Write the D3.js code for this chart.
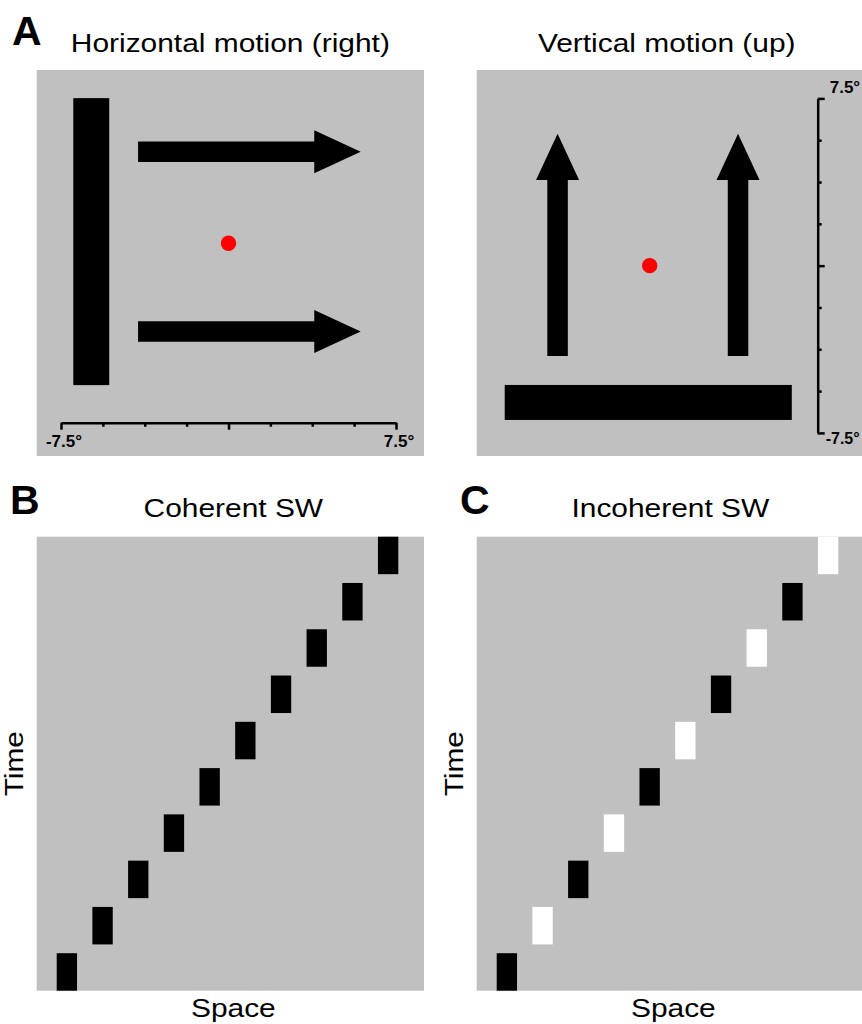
<!DOCTYPE html>
<meta charset="utf-8">
<head>
<style>
body { margin: 0; background: #fff; }
svg { display: block; }
text { font-family: "Liberation Sans", Arial, Helvetica, sans-serif; fill: #000; }
.bg { fill: #c0c0c0; }
.deg-axis path, .deg-axis line { stroke: #000; stroke-width: 2.5px; fill: none; }
.title { font-size: 26px; }
.letter { font-size: 41px; font-weight: bold; }
.fix { fill: #ff0000; }
</style>
</head>
<body>
<svg></svg>
<script src="https://d3js.org/d3.v7.min.js"></script>
<script>
// ---------- data (degrees of visual angle for panel A) ----------
var degTicks = [-7.5, -5.625, -3.75, -1.875, 0, 1.875, 3.75, 5.625, 7.5];
var degMajor = [-7.5, 0, 7.5];
var degLabels = ["-7.5°", "7.5°"];

var hArrowRows = [4.1, -3.95];          // centre line of each rightward arrow
var vArrowCols = [-4.13, 3.96];         // centre line of each upward arrow
var arrowSpan = [-4.05, 3.84, 5.92];    // tail, head base, tip
var arrowWidth = [0.92, 1.93];          // shaft, head
var hBar = [-6.95, -5.34, -6.35, 6.5];  // x0, x1, y0, y1 (horizontal panel)
var vBar = [-6.5, 6.37, -6.92, -5.35];  // x0, x1, y0, y1 (vertical panel)

// panels B and C: one bar per time step
var timeSteps = [0, 1, 2, 3, 4, 5, 6, 7, 8, 9];
var spaceSteps = [0, 1, 2, 3, 4, 5, 6, 7, 8, 9];
var coherentPos = [0, 1, 2, 3, 4, 5, 6, 7, 8, 9];
var coherentContrast = ["dark", "dark", "dark", "dark", "dark", "dark", "dark", "dark", "dark", "dark"];
var incoherentPos = [0, 1, 2, 3, 4, 5, 6, 7, 8, 9];
var incoherentContrast = ["dark", "light", "dark", "light", "dark", "light", "dark", "light", "dark", "light"];

var panelTitles = ["Horizontal motion (right)", "Vertical motion (up)", "Coherent SW", "Incoherent SW"];
var panelLetters = ["A", "B", "C"];

// ---------- layout ----------
var W = 862, H = 1024;
var colX = [36.7, 476.7], panelW = 387.3;
var rowTop = {y: 70, h: 386}, rowBot = {y: 536.7, h: 454};
var stretch = 1.15; // title lettering in the figure is a bit wider than Arial

var svg = d3.select('svg').attr('width', W).attr('height', H);

var contrastColor = d3.scaleOrdinal().domain(["dark", "light"]).range(["#000", "#fff"]);

function widen(sel) {
  sel.each(function () {
    var w = this.getComputedTextLength();
    d3.select(this).attr('textLength', w * stretch).attr('lengthAdjust', 'spacingAndGlyphs');
  });
}

function degText(sel) {
  sel.style('font-size', '17px').style('font-weight', 'bold')
    .style('font-family', '"Liberation Sans", Arial, sans-serif').style('fill', '#000');
}

function panel(x, y, h) {
  var g = svg.append('g').attr('transform', 'translate(' + x + ',' + y + ')');
  g.append('rect').attr('class', 'bg').attr('width', panelW).attr('height', h);
  return g;
}

var arrowLine = d3.line();

function hArrow(xs, ys, yc) {
  var s = arrowWidth[0] / 2, hh = arrowWidth[1] / 2;
  var p = [[arrowSpan[0], yc + s], [arrowSpan[1], yc + s], [arrowSpan[1], yc + hh], [arrowSpan[2], yc],
           [arrowSpan[1], yc - hh], [arrowSpan[1], yc - s], [arrowSpan[0], yc - s]];
  return arrowLine(p.map(function (d) { return [xs(d[0]), ys(d[1])]; })) + 'Z';
}
function vArrow(xs, ys, xc) {
  var s = arrowWidth[0] / 2, hh = arrowWidth[1] / 2;
  var p = [[xc - s, arrowSpan[0]], [xc - s, arrowSpan[1]], [xc - hh, arrowSpan[1]], [xc, arrowSpan[2]],
           [xc + hh, arrowSpan[1]], [xc + s, arrowSpan[1]], [xc + s, arrowSpan[0]]];
  return arrowLine(p.map(function (d) { return [xs(d[0]), ys(d[1])]; })) + 'Z';
}

// ---------- A, horizontal ----------
var gA1 = panel(colX[0], rowTop.y, rowTop.h);
var xA1 = d3.scaleLinear().domain([-7.5, 7.5]).range([24.3, 359.3]);
var yA1 = d3.scaleLinear().domain([-7.5, 7.5]).range([340.8, 5.8]);

gA1.append('rect')
  .attr('x', xA1(hBar[0])).attr('width', xA1(hBar[1]) - xA1(hBar[0]))
  .attr('y', yA1(hBar[3])).attr('height', yA1(hBar[2]) - yA1(hBar[3]));
gA1.selectAll('path.arrow').data(hArrowRows).enter().append('path')
  .attr('class', 'arrow').attr('d', function (d) { return hArrow(xA1, yA1, d); });
gA1.append('circle').attr('class', 'fix').attr('cx', xA1(0)).attr('cy', yA1(0)).attr('r', 7.7);

var axA1 = gA1.append('g').attr('class', 'deg-axis').attr('transform', 'translate(0,352.7)')
  .call(d3.axisBottom(xA1).tickValues(degTicks).tickSizeInner(4).tickSizeOuter(0).tickFormat(''));
axA1.selectAll('.tick line').filter(function (d) { return degMajor.indexOf(d) >= 0; }).attr('y2', 7);
axA1.selectAll('.tick text').remove();
axA1.selectAll('text.deg-label').data([-7.5, 7.5]).enter().append('text')
  .attr('class', 'deg-label').attr('text-anchor', 'middle')
  .attr('x', function (d) { return xA1(d) + 3; }).attr('y', 24)
  .text(function (d, i) { return degLabels[i]; })
  .call(degText);

// ---------- A, vertical ----------
var gA2 = panel(colX[1], rowTop.y, rowTop.h);
var xA2 = d3.scaleLinear().domain([-7.5, 7.5]).range([5.7, 340.3]);
var yA2 = d3.scaleLinear().domain([-7.5, 7.5]).range([362.9, 28.4]);

gA2.append('rect')
  .attr('x', xA2(vBar[0])).attr('width', xA2(vBar[1]) - xA2(vBar[0]))
  .attr('y', yA2(vBar[3])).attr('height', yA2(vBar[2]) - yA2(vBar[3]));
gA2.selectAll('path.arrow').data(vArrowCols).enter().append('path')
  .attr('class', 'arrow').attr('d', function (d) { return vArrow(xA2, yA2, d); });
gA2.append('circle').attr('class', 'fix').attr('cx', xA2(0)).attr('cy', yA2(0)).attr('r', 7.7);

var axA2 = gA2.append('g').attr('class', 'deg-axis').attr('transform', 'translate(341,0)')
  .call(d3.axisRight(yA2).tickValues(degTicks).tickSizeInner(4).tickSizeOuter(0).tickFormat(''));
axA2.selectAll('.tick line').filter(function (d) { return degMajor.indexOf(d) >= 0; }).attr('x2', 7);
axA2.selectAll('.tick text').remove();
axA2.append('text').attr('class', 'deg-label').attr('x', 12).attr('y', yA2(7.5) - 5)
  .text(degLabels[1]).call(degText);
axA2.append('text').attr('class', 'deg-label').attr('x', 8).attr('y', yA2(-7.5) + 11)
  .text(degLabels[0]).call(degText).style('font-size', '16px');

// ---------- B and C ----------
var space = d3.scaleBand().domain(spaceSteps).range([20, 361.6]).paddingInner(0.43).paddingOuter(0);
var time = d3.scaleBand().domain(timeSteps).range([rowBot.h, 0]).paddingInner(0.19).paddingOuter(0);

function spaceTime(g, pos, contrast) {
  g.selectAll('rect.bar').data(timeSteps).enter().append('rect')
    .attr('class', 'bar')
    .attr('x', function (t) { return space(pos[t]); })
    .attr('y', function (t) { return time(t); })
    .attr('width', space.bandwidth())
    .attr('height', time.bandwidth())
    .attr('fill', function (t) { return contrastColor(contrast[t]); });
  g.append('text').attr('class', 'title').attr('text-anchor', 'middle')
    .attr('transform', 'translate(-13.4,' + rowBot.h / 2 + ') rotate(-90)')
    .text('Time').call(widen);
  g.append('text').attr('class', 'title').attr('text-anchor', 'middle')
    .attr('x', panelW / 2 + 3).attr('y', rowBot.h + 26)
    .text('Space').call(widen);
}

var gB = panel(colX[0], rowBot.y, rowBot.h);
spaceTime(gB, coherentPos, coherentContrast);
var gC = panel(colX[1], rowBot.y, rowBot.h);
spaceTime(gC, incoherentPos, incoherentContrast);

// ---------- titles and panel letters ----------
var titleAt = [[colX[0] + panelW / 2, 51.5], [colX[1] + 190, 51.5],
               [colX[0] + panelW / 2 + 3, 517], [colX[1] + panelW / 2, 517]];
svg.selectAll('text.ptitle').data(panelTitles).enter().append('text')
  .attr('class', 'title ptitle').attr('text-anchor', 'middle')
  .attr('x', function (d, i) { return titleAt[i][0]; })
  .attr('y', function (d, i) { return titleAt[i][1]; })
  .text(function (d) { return d; })
  .call(widen);

var letterAt = [[12, 45], [10, 513.5], [460, 514]];
svg.selectAll('text.letter').data(panelLetters).enter().append('text')
  .attr('class', 'letter')
  .attr('x', function (d, i) { return letterAt[i][0]; })
  .attr('y', function (d, i) { return letterAt[i][1]; })
  .text(function (d) { return d; });
</script>
</body>
</html>
